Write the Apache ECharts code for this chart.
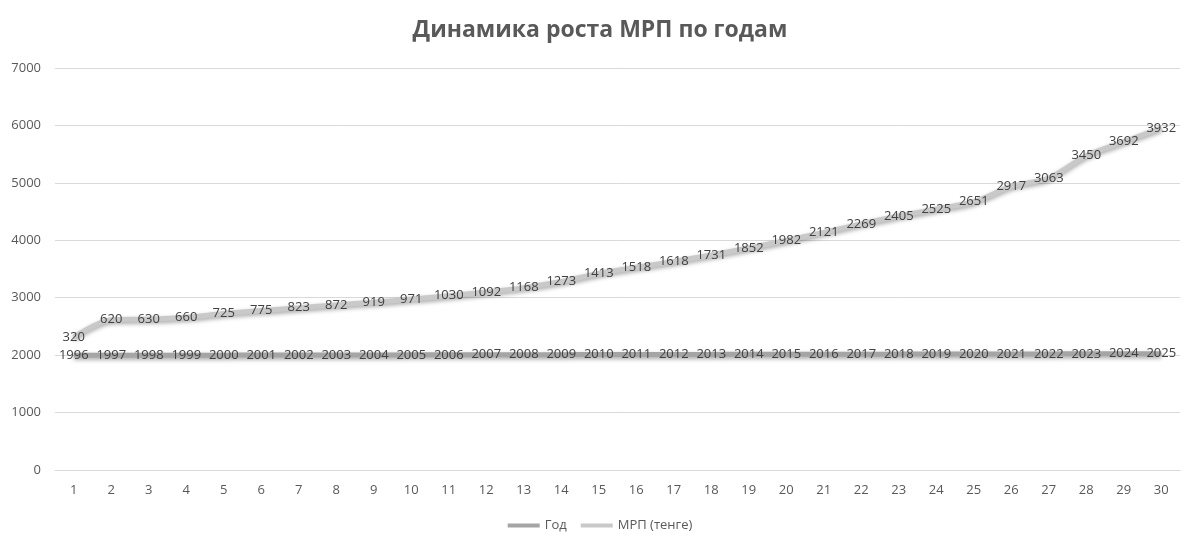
<!DOCTYPE html>
<html><head><meta charset="utf-8">
<script src="https://cdn.jsdelivr.net/npm/echarts@6/dist/echarts.min.js"></script>
<style>html,body{margin:0;padding:0;background:#fff}#c{width:1200px;height:551px}</style>
</head><body><div id="c"></div>
<script>
const categories = Array.from({length:30},(_,i)=>String(i+1));
const years = [1996,1997,1998,1999,2000,2001,2002,2003,2004,2005,2006,2007,2008,2009,2010,2011,2012,2013,2014,2015,2016,2017,2018,2019,2020,2021,2022,2023,2024,2025];
const mrp = [320,620,630,660,725,775,823,872,919,971,1030,1092,1168,1273,1413,1518,1618,1731,1852,1982,2121,2269,2405,2525,2651,2917,3063,3450,3692,3932];
const font = '"Open Sans", "Liberation Sans", sans-serif';
const chart = echarts.init(document.getElementById('c'));
const lbl = {show:true, position:'inside', color:'#404040', fontSize:13, fontFamily:font, formatter:p=>String(p.value)};
const shadow = {shadowColor:'rgba(0,0,0,0.35)', shadowBlur:4, shadowOffsetY:2};
chart.setOption({
  animation:false,
  title:{text:'Динамика роста МРП по годам', left:'center', top:14,
    textStyle:{fontSize:23, fontWeight:'bold', color:'#595959', fontFamily:font}},
  grid:{left:55, right:20, top:68, bottom:81},
  legend:{bottom:14, left:'center', itemWidth:32, itemHeight:4, itemGap:14,
    textStyle:{color:'#595959', fontSize:13, fontFamily:font},
    data:[{name:'Год',icon:'rect'},{name:'МРП (тенге)',icon:'rect'}]},
  xAxis:{type:'category', data:categories, boundaryGap:true,
    axisLine:{lineStyle:{color:'#d9d9d9'}}, axisTick:{show:false},
    axisLabel:{color:'#595959', fontSize:13, fontFamily:font, margin:14}},
  yAxis:{type:'value', min:0, max:7000, interval:1000,
    axisLine:{show:false}, axisTick:{show:false},
    splitLine:{lineStyle:{color:'#d9d9d9'}},
    axisLabel:{color:'#595959', fontSize:13, fontFamily:font, margin:14, formatter:v=>String(v)}},
  series:[
    {name:'Год', type:'line', stack:'s', data:years, showSymbol:true, symbol:'circle', symbolSize:1, smooth:0.3,
      itemStyle:{color:'#a5a5a5'}, lineStyle:Object.assign({width:5, color:'#a5a5a5'},shadow), label:lbl, z:2},
    {name:'МРП (тенге)', type:'line', stack:'s', data:mrp, showSymbol:true, symbol:'circle', symbolSize:1, smooth:0.3,
      itemStyle:{color:'#c9c9c9'}, lineStyle:Object.assign({width:5, color:'#c9c9c9'},shadow), label:lbl, z:3}
  ]
});
</script></body></html>
